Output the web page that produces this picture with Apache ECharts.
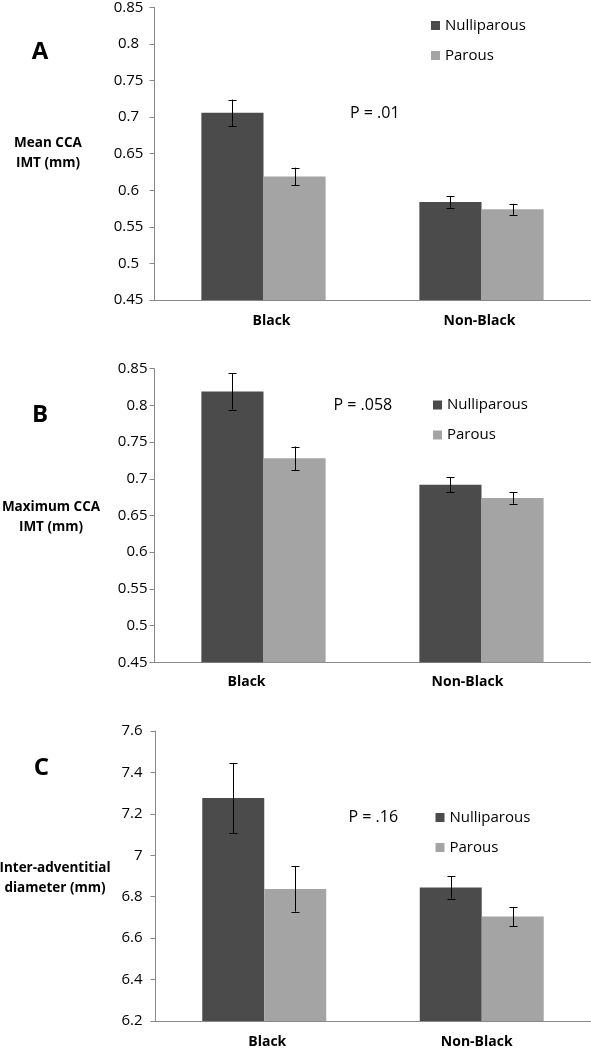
<!DOCTYPE html>
<html>
<head>
<meta charset="utf-8">
<script src="https://cdn.jsdelivr.net/npm/echarts@6/dist/echarts.min.js"></script>
<style>
html,body{margin:0;padding:0;background:#fff;}
#chart{width:591px;height:1049px;}
</style>
</head>
<body>
<div id="chart"></div>
<script>
// ---- data ----
var categories = ['Black', 'Non-Black'];
var seriesNames = ['Nulliparous', 'Parous'];

var meanNull = [0.706, 0.584];
var meanPar = [0.619, 0.574];
var meanNullErr = [0.018, 0.008];
var meanParErr = [0.012, 0.0075];

var maxNull = [0.819, 0.692];
var maxPar = [0.728, 0.674];
var maxNullErr = [0.025, 0.010];
var maxParErr = [0.016, 0.008];

var diamNull = [7.277, 6.845];
var diamPar = [6.837, 6.704];
var diamNullErr = [0.169, 0.054];
var diamParErr = [0.109, 0.047];

var yTicksA = {min: 0.45, max: 0.85, interval: 0.05};
var yTicksB = {min: 0.45, max: 0.85, interval: 0.05};
var yTicksC = {min: 6.2, max: 7.6, interval: 0.2};

var pTexts = ['P = .01', 'P = .058', 'P = .16'];
var panelLetters = ['A', 'B', 'C'];
var yTitles = ['Mean CCA\nIMT (mm)', 'Maximum CCA\nIMT (mm)', 'Inter-adventitial\ndiameter (mm)'];

// ---- layout / style ----
var FONT = 'Open Sans';
var DARK = '#4b4b4b', LIGHT = '#a4a4a4', AXIS = '#888888';
var CAT_GAP = 0.43;

var panels = [
  {null: meanNull, par: meanPar, nullErr: meanNullErr, parErr: meanParErr, ticks: yTicksA,
   grid: {left: 154.5, top: 6, width: 436, height: 294}, labelMargin: 14, catPads: [[0,0,0,16],[0,4,0,0]],
   yAlign: 'center', yMargin: 26,
   legend: {left: 426, top: 13}, p: {x: 350, y: 116}, letter: {x: 40, y: 52}, title: {x: 48, y: 153}},
  {null: maxNull, par: maxPar, nullErr: maxNullErr, parErr: maxParErr, ticks: yTicksB,
   grid: {left: 154.5, top: 368.7, width: 436, height: 293.6}, labelMargin: 13, catPads: [[0,34,0,0],[0,28,0,0]],
   yAlign: 'right', yMargin: 7,
   legend: {left: 428, top: 392.5}, p: {x: 333.5, y: 408}, letter: {x: 40, y: 415}, title: {x: 51, y: 517.5}},
  {null: diamNull, par: diamPar, nullErr: diamNullErr, parErr: diamParErr, ticks: yTicksC,
   grid: {left: 155.5, top: 731, width: 435, height: 293.3}, labelMargin: 14, catPads: [[0,0,0,6],[0,10,0,0]],
   yAlign: 'right', yMargin: 13,
   legend: {left: 430.5, top: 805}, p: {x: 348.5, y: 820}, letter: {x: 41.5, y: 768}, title: {x: 55, y: 878.5}}
];

var grids = [], xAxes = [], yAxes = [], series = [], legends = [], graphics = [];

panels.forEach(function (pn, i) {
  grids.push(pn.grid);
  xAxes.push({
    type: 'category', gridIndex: i,
    data: categories.map(function (c, k) { return {value: c, textStyle: {padding: pn.catPads[k]}}; }),
    axisTick: {show: false},
    axisLine: {lineStyle: {color: AXIS, width: 1}},
    axisLabel: {fontFamily: FONT, fontWeight: 'bold', fontSize: 14, color: '#000', margin: pn.labelMargin}
  });
  yAxes.push({
    type: 'value', gridIndex: i, min: pn.ticks.min, max: pn.ticks.max, interval: pn.ticks.interval,
    splitLine: {show: false},
    axisLine: {show: true, lineStyle: {color: AXIS, width: 1}},
    axisTick: {show: true, length: 5, lineStyle: {color: AXIS}},
    axisLabel: {fontFamily: FONT, fontSize: 15, color: '#000', margin: pn.yMargin, align: pn.yAlign}
  });
  var groups = [
    {name: seriesNames[0], vals: pn.null, errs: pn.nullErr, color: DARK, side: -1},
    {name: seriesNames[1], vals: pn.par, errs: pn.parErr, color: LIGHT, side: 1}
  ];
  groups.forEach(function (g) {
    series.push({
      type: 'bar', name: g.name, xAxisIndex: i, yAxisIndex: i, data: g.vals,
      barGap: '0%', barCategoryGap: (CAT_GAP * 100) + '%',
      itemStyle: {color: g.color}, silent: true, emphasis: {disabled: true}
    });
  });
  groups.forEach(function (g) {
    series.push({
      type: 'custom', xAxisIndex: i, yAxisIndex: i, silent: true, z: 5,
      data: g.vals.map(function (v, k) { return [k, v - g.errs[k], v + g.errs[k]]; }),
      renderItem: function (params, api) {
        var band = api.size([1, 0])[0];
        var off = g.side * band * (1 - CAT_GAP) / 4;
        var lo = api.coord([api.value(0), api.value(1)]);
        var hi = api.coord([api.value(0), api.value(2)]);
        var x = Math.round(lo[0] + off) + 0.5;
        var cap = 4;
        var st = {stroke: '#000', lineWidth: 1};
        return {type: 'group', children: [
          {type: 'line', shape: {x1: x, y1: hi[1], x2: x, y2: lo[1]}, style: st},
          {type: 'line', shape: {x1: x - cap, y1: Math.round(hi[1]) + 0.5, x2: x + cap, y2: Math.round(hi[1]) + 0.5}, style: st},
          {type: 'line', shape: {x1: x - cap, y1: Math.round(lo[1]) + 0.5, x2: x + cap, y2: Math.round(lo[1]) + 0.5}, style: st}
        ]};
      }
    });
  });
  legends.push({
    data: seriesNames, orient: 'vertical', left: pn.legend.left, top: pn.legend.top,
    itemWidth: 9, itemHeight: 9, itemGap: 15, selectedMode: false,
    icon: 'rect',
    textStyle: {fontFamily: FONT, fontSize: 15, color: '#000'}
  });
  graphics.push({type: 'text', left: pn.p.x, top: pn.p.y - 11,
    style: {text: pTexts[i], font: '16px "' + FONT + '"', fill: '#000'}});
  graphics.push({type: 'text', x: pn.letter.x, y: pn.letter.y,
    style: {text: panelLetters[i], font: 'bold 24px "' + FONT + '"', fill: '#000', textAlign: 'center', textVerticalAlign: 'middle'}});
  graphics.push({type: 'text', x: pn.title.x, y: pn.title.y,
    style: {text: yTitles[i], font: 'bold 13.5px "' + FONT + '"', fill: '#000', textAlign: 'center', textVerticalAlign: 'middle', lineHeight: 20}});
});

var chart = echarts.init(document.getElementById('chart'), null, {renderer: 'canvas'});
chart.setOption({
  backgroundColor: '#fff',
  animation: false,
  grid: grids, xAxis: xAxes, yAxis: yAxes, series: series, legend: legends,
  graphic: {elements: graphics}
});
</script>
</body>
</html>
